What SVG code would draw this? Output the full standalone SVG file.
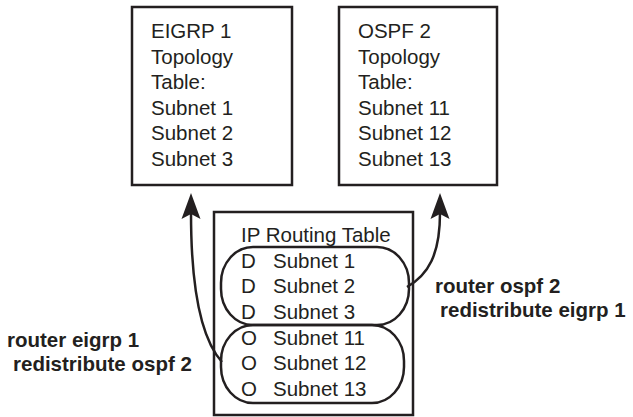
<svg xmlns="http://www.w3.org/2000/svg" width="633" height="417" viewBox="0 0 633 417">
<style>
.box{fill:#fff;stroke:#231f20;stroke-width:2.5}
.pill{fill:none;stroke:#231f20;stroke-width:2.5}
.t{font-family:"Liberation Sans",Arial,sans-serif;font-size:20.5px;fill:#231f20}
.b{font-family:"Liberation Sans",Arial,sans-serif;font-size:20.5px;font-weight:bold;fill:#231f20}
.conn{fill:none;stroke:#231f20;stroke-width:2.5}
</style>
<defs>
<marker id="ah" markerUnits="userSpaceOnUse" markerWidth="30" markerHeight="30" refX="0" refY="0" orient="auto" overflow="visible">
<path d="M20,0 L-6,-9.5 L-1,0 L-6,9.5 Z" fill="#231f20"/>
</marker>
</defs>
<g id="eigrp-topology">
<rect class="box" x="132" y="7" width="160" height="178"/>
<text class="t" x="151" y="38">EIGRP 1</text>
<text class="t" x="151" y="63.5">Topology</text>
<text class="t" x="151" y="89">Table:</text>
<text class="t" x="151" y="114.5">Subnet 1</text>
<text class="t" x="151" y="140">Subnet 2</text>
<text class="t" x="151" y="165.5">Subnet 3</text>
</g>
<g id="ospf-topology">
<rect class="box" x="339" y="7" width="158" height="178"/>
<text class="t" x="358" y="38">OSPF 2</text>
<text class="t" x="358" y="63.5">Topology</text>
<text class="t" x="358" y="89">Table:</text>
<text class="t" x="358" y="114.5">Subnet 11</text>
<text class="t" x="358" y="140">Subnet 12</text>
<text class="t" x="358" y="165.5">Subnet 13</text>
</g>
<g id="ip-routing-table">
<rect class="box" x="214" y="212" width="199" height="203"/>
<text class="t" x="241" y="242">IP Routing Table</text>
<rect class="pill" x="221" y="247" width="188" height="78" rx="32" ry="36"/>
<rect class="pill" x="221" y="325" width="183" height="78" rx="32" ry="36"/>
<text class="t" x="241" y="267.5">D</text><text class="t" x="273" y="267.5">Subnet 1</text>
<text class="t" x="241" y="293">D</text><text class="t" x="273" y="293">Subnet 2</text>
<text class="t" x="241" y="318.5">D</text><text class="t" x="273" y="318.5">Subnet 3</text>
<text class="t" x="241" y="344.5">O</text><text class="t" x="273" y="344.5">Subnet 11</text>
<text class="t" x="241" y="370">O</text><text class="t" x="273" y="370">Subnet 12</text>
<text class="t" x="241" y="395.5">O</text><text class="t" x="273" y="395.5">Subnet 13</text>
</g>
<g id="connectors">
<path class="conn" d="M222,362 C202,340 191,290 191,213" marker-end="url(#ah)"/>
<path class="conn" d="M407,287 C428,275 440,255 440,213" marker-end="url(#ah)"/>
</g>
<g id="label-ospf">
<text class="b" x="435" y="293">router ospf 2</text>
<text class="b" x="440" y="317">redistribute eigrp 1</text>
</g>
<g id="label-eigrp">
<text class="b" x="7" y="347">router eigrp 1</text>
<text class="b" x="13" y="371">redistribute ospf 2</text>
</g>
</svg>
